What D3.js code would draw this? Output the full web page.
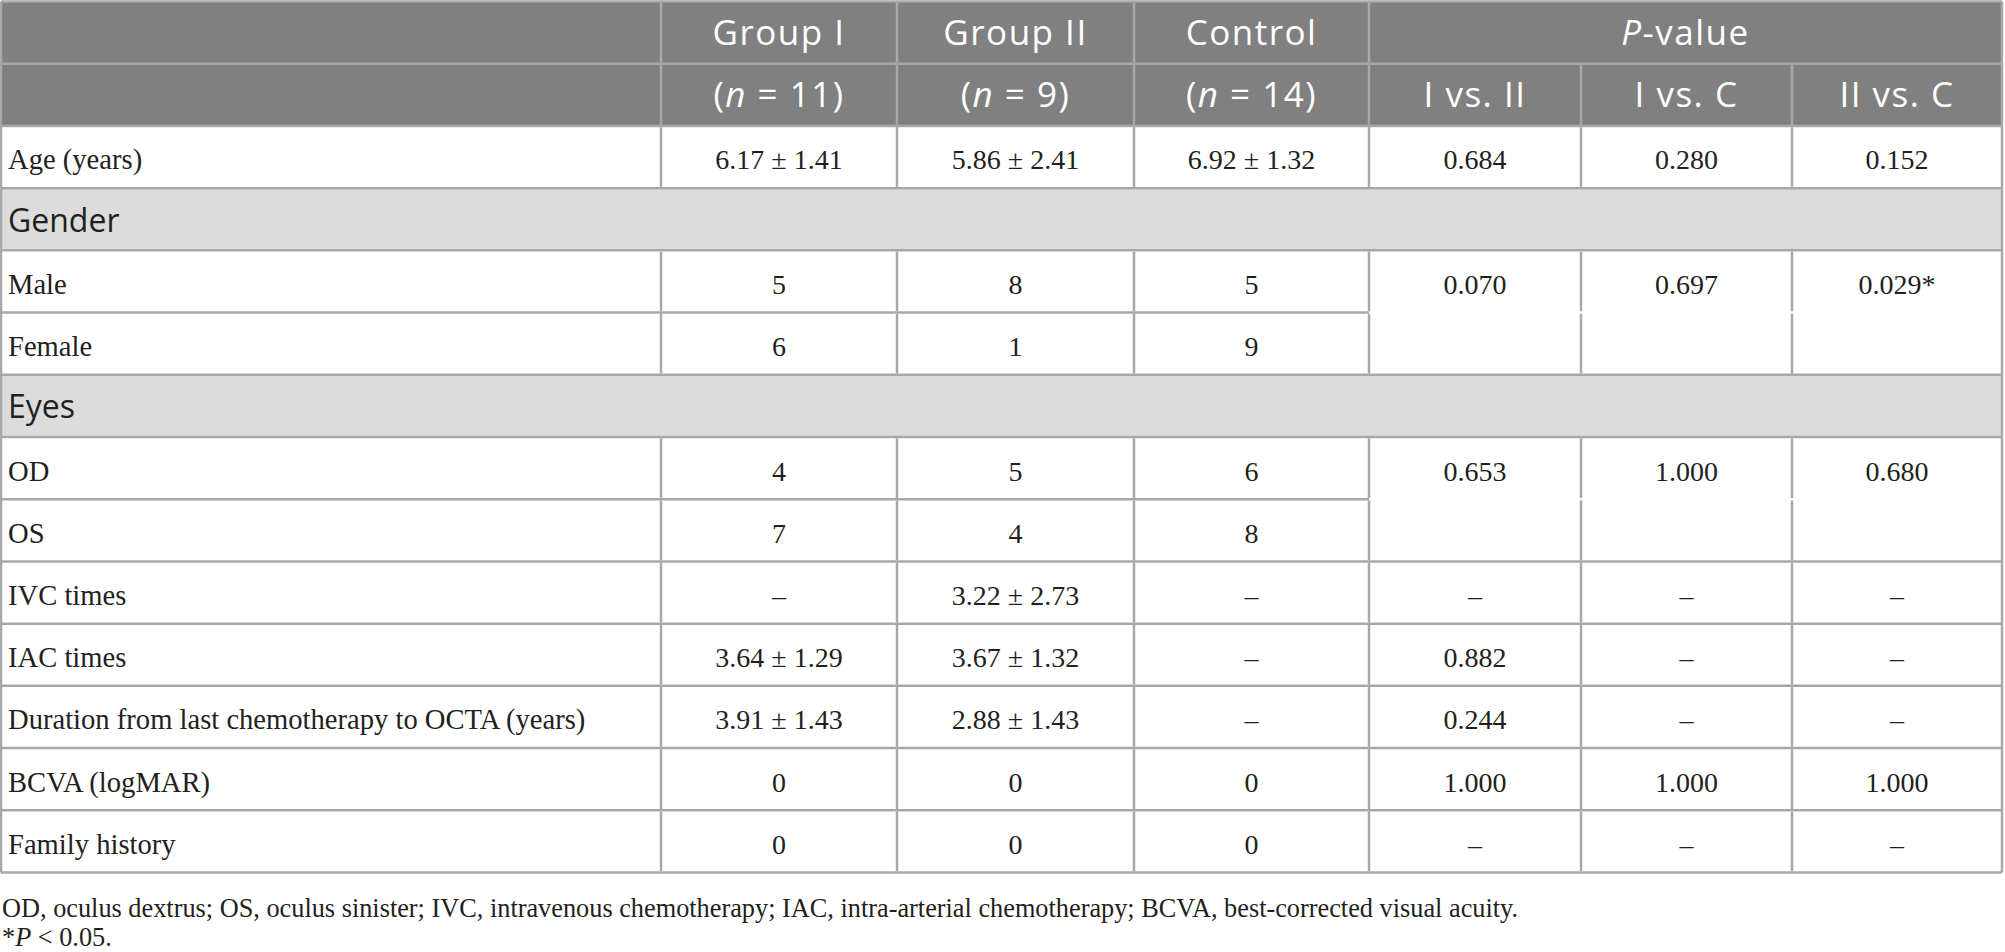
<!DOCTYPE html>
<html>
<head>
<meta charset="utf-8">
<style>
  body { margin: 0; background: #fff; }
  svg { display: block; }
  .serif { font-family: "Liberation Serif", "Times New Roman", serif; fill: #231f20; }
  .sans { font-family: "Open Sans", sans-serif; }
</style>
</head>
<body>
<div id="table"></div>

<script src="https://d3js.org/d3.v7.min.js"></script>
<script>
    // table content
    const groups = ['Group I', 'Group II', 'Control'];
    const groupN = ['11', '9', '14'];
    const comparisons = ['I vs. II', 'I vs. C', 'II vs. C'];

    const rowLabels = ['Age (years)', 'Gender', 'Male', 'Female', 'Eyes', 'OD', 'OS',
                       'IVC times', 'IAC times', 'Duration from last chemotherapy to OCTA (years)',
                       'BCVA (logMAR)', 'Family history'];
    const sectionRows = ['Gender', 'Eyes'];
    // rows whose P-value cells are merged with the row above
    const mergedRows = ['Female', 'OS'];

    const groupValues = [
      ['6.17 ± 1.41', '5.86 ± 2.41', '6.92 ± 1.32'],
      null,
      ['5', '8', '5'],
      ['6', '1', '9'],
      null,
      ['4', '5', '6'],
      ['7', '4', '8'],
      ['–', '3.22 ± 2.73', '–'],
      ['3.64 ± 1.29', '3.67 ± 1.32', '–'],
      ['3.91 ± 1.43', '2.88 ± 1.43', '–'],
      ['0', '0', '0'],
      ['0', '0', '0']
    ];
    const pValues = [
      ['0.684', '0.280', '0.152'],
      null,
      ['0.070', '0.697', '0.029*'],
      null,
      null,
      ['0.653', '1.000', '0.680'],
      null,
      ['–', '–', '–'],
      ['0.882', '–', '–'],
      ['0.244', '–', '–'],
      ['1.000', '1.000', '1.000'],
      ['–', '–', '–']
    ];

    const footnote = 'OD, oculus dextrus; OS, oculus sinister; IVC, intravenous chemotherapy; IAC, intra-arterial chemotherapy; BCVA, best-corrected visual acuity.';

    // layout
    const W = 2005, H = 952;
    const colWidths = [660, 236, 237, 235, 212, 211, 210];
    const x0 = 1;
    const edges = [x0];
    colWidths.forEach(w => edges.push(edges[edges.length - 1] + w));
    const xEnd = edges[edges.length - 1];
    const colMid = i => (edges[i] + edges[i + 1]) / 2;

    const nRows = rowLabels.length + 2;
    const y = d3.scaleBand().domain(d3.range(nRows)).range([1.5, 872.5]);
    const rh = y.bandwidth();

    const lineColor = '#a8a8a8';
    const lw = 2.5;

    const svg = d3.select('#table')
                  .append('svg')
                  .attr('width', W)
                  .attr('height', H);

    // backgrounds
    svg.append('rect')
       .attr('x', x0).attr('y', y(0))
       .attr('width', xEnd - x0).attr('height', rh * 2)
       .attr('fill', '#808080');

    svg.append('g')
       .selectAll('rect')
       .data(rowLabels.map((d, i) => ({label: d, r: i + 2})).filter(d => sectionRows.includes(d.label)))
       .enter()
       .append('rect')
       .attr('x', x0).attr('y', d => y(d.r))
       .attr('width', xEnd - x0).attr('height', rh)
       .attr('fill', '#dcdcdc');

    // horizontal lines
    const hLines = [];
    for (let k = 0; k <= nRows; k++) {
      const yy = k < nRows ? y(k) : y(nRows - 1) + rh;
      const lbl = rowLabels[k - 2];
      const merged = mergedRows.includes(lbl);
      hLines.push({y: yy, x1: x0, x2: merged ? edges[4] : xEnd});
    }
    svg.append('g')
       .selectAll('line')
       .data(hLines)
       .enter()
       .append('line')
       .attr('x1', d => d.x1).attr('x2', d => d.x2)
       .attr('y1', d => d.y).attr('y2', d => d.y)
       .style('stroke', lineColor).style('stroke-width', lw);

    // vertical lines, one segment per row
    const vLines = [];
    for (let r = 0; r < nRows; r++) {
      const lbl = rowLabels[r - 2];
      if (sectionRows.includes(lbl)) continue;
      for (let j = 1; j < edges.length - 1; j++) {
        if (r === 0 && j >= 5) continue;
        vLines.push({x: edges[j], y1: y(r) + lw / 2, y2: y(r) + rh - lw / 2});
      }
    }
    vLines.push({x: x0, y1: y(0), y2: y(nRows - 1) + rh});
    vLines.push({x: xEnd, y1: y(0), y2: y(nRows - 1) + rh});
    svg.append('g')
       .selectAll('line')
       .data(vLines)
       .enter()
       .append('line')
       .attr('x1', d => d.x).attr('x2', d => d.x)
       .attr('y1', d => d.y1).attr('y2', d => d.y2)
       .style('stroke', lineColor).style('stroke-width', lw);

    // header text
    const head = svg.append('g')
                    .attr('class', 'sans')
                    .style('fill', '#fff')
                    .style('font-size', '35px')
                    .style('letter-spacing', '1.5px')
                    .attr('text-anchor', 'middle');

    head.selectAll('text.grp')
        .data(groups)
        .enter()
        .append('text')
        .attr('class', 'grp')
        .attr('x', (d, i) => colMid(i + 1))
        .attr('y', y(0) + 43.5)
        .text(d => d);

    const pHead = head.append('text')
                      .attr('x', (edges[4] + xEnd) / 2)
                      .attr('y', y(0) + 43.5);
    pHead.append('tspan').style('font-style', 'italic').text('P');
    pHead.append('tspan').text('-value');

    const nHead = head.selectAll('text.n')
                      .data(groupN)
                      .enter()
                      .append('text')
                      .attr('class', 'n')
                      .attr('x', (d, i) => colMid(i + 1))
                      .attr('y', y(1) + 43.5);
    nHead.append('tspan').text('(');
    nHead.append('tspan').style('font-style', 'italic').text('n');
    nHead.append('tspan').text(d => ' = ' + d + ')');

    head.selectAll('text.cmp')
        .data(comparisons)
        .enter()
        .append('text')
        .attr('class', 'cmp')
        .attr('x', (d, i) => colMid(i + 4))
        .attr('y', y(1) + 43.5)
        .text(d => d);

    // row labels
    svg.append('g')
       .selectAll('text')
       .data(rowLabels)
       .enter()
       .append('text')
       .attr('class', d => sectionRows.includes(d) ? 'sans' : 'serif')
       .attr('x', 8)
       .attr('y', (d, i) => y(i + 2) + 43.5)
       .style('font-size', d => sectionRows.includes(d) ? '32px' : '28.6px')
       .style('fill', '#231f20')
       .text(d => d);

    // cell values
    const cells = [];
    rowLabels.forEach((lbl, i) => {
      const gv = groupValues[i], pv = pValues[i];
      if (gv) gv.forEach((v, j) => cells.push({r: i + 2, c: j + 1, v}));
      if (pv) pv.forEach((v, j) => cells.push({r: i + 2, c: j + 4, v}));
    });
    svg.append('g')
       .attr('class', 'serif')
       .style('font-size', '28px')
       .attr('text-anchor', 'middle')
       .selectAll('text')
       .data(cells)
       .enter()
       .append('text')
       .attr('x', d => colMid(d.c))
       .attr('y', d => y(d.r) + 43.5)
       .text(d => d.v);

    // footnotes
    const foot = svg.append('g')
                    .attr('class', 'serif')
                    .style('font-size', '26.3px');
    foot.append('text')
        .attr('x', 2)
        .attr('y', 917)
        .text(footnote);
    const f2 = foot.append('text')
                   .attr('x', 2)
                   .attr('y', 946);
    f2.append('tspan').text('*');
    f2.append('tspan').style('font-style', 'italic').text('P');
    f2.append('tspan').text(' < 0.05.');
</script>
</body>
</html>
